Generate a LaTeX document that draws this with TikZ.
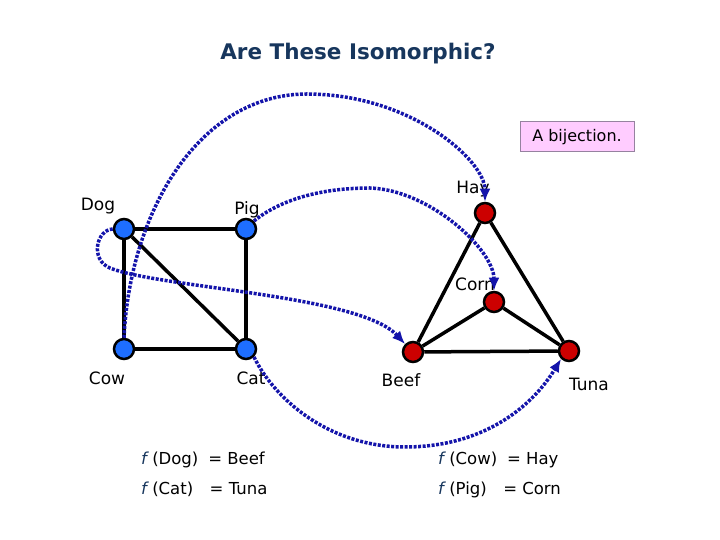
\documentclass[tikz,border=0pt]{standalone}
\usepackage{fontspec}
\setmainfont{DejaVu Sans}
\usetikzlibrary{positioning, arrows.meta}
\definecolor{titleblue}{RGB}{23,54,93}
\definecolor{mapblue}{RGB}{20,20,170}
\definecolor{vertblue}{RGB}{30,110,255}
\definecolor{vertred}{RGB}{204,0,0}
\definecolor{boxpink}{RGB}{255,204,255}
\definecolor{boxedge}{RGB}{150,130,160}
\tikzset{
    bluevert/.style={draw, circle, line width=2.5pt, fill=vertblue, minimum size=20pt, inner sep=0pt},
    redvert/.style={bluevert, fill=vertred},
    graphedge/.style={line width=3.5pt},
    vlabel/.style={font=\fontsize{17}{19}\selectfont, anchor=base, inner sep=0pt},
    maptext/.style={font=\fontsize{16.5}{18}\selectfont, anchor=base west, inner sep=0pt},
    bijarrow/.style={mapblue, line width=3.5pt, dash pattern=on 3pt off 1.5pt,
        -{Latex[length=13pt, width=11pt]}},
    notebox/.style={draw=boxedge, fill=boxpink, line width=1pt, minimum width=114pt, minimum height=30pt,
        font=\fontsize{16}{18}\selectfont}
}
\newcommand{\fof}{{\color{titleblue}\itshape f}}

\begin{document}
\begin{tikzpicture}[x=1pt, y=1pt, >=Latex]
  \useasboundingbox (0,0) rectangle (720,540);
  \node(title)[font=\fontsize{21.5}{24}\selectfont\bfseries, text=titleblue] at (358,486) {Are These Isomorphic?};
  \node(note)[notebox] at (577,403) {A bijection.};
  % left graph
  \node(Dog)[bluevert] at (124,311) {};
  \node(Pig)[bluevert] at (246,311) {};
  \node(Cow)[bluevert] at (124,191) {};
  \node(Cat)[bluevert] at (246,191) {};
  % right graph
  \node(Hay)[redvert] at (485,327) {};
  \node(Corn)[redvert] at (494,238) {};
  \node(Beef)[redvert] at (413,188) {};
  \node(Tuna)[redvert] at (569,189) {};
  \draw[graphedge](Dog)--(Pig);
  \draw[graphedge](Dog)--(Cow);
  \draw[graphedge](Dog)--(Cat);
  \draw[graphedge](Pig)--(Cat);
  \draw[graphedge](Cow)--(Cat);
  \draw[graphedge](Hay)--(Beef);
  \draw[graphedge](Hay)--(Tuna);
  \draw[graphedge](Beef)--(Tuna);
  \draw[graphedge](Corn)--(Beef);
  \draw[graphedge](Corn)--(Tuna);
  % vertex names
  \node(DogL)[vlabel] at (98,329) {Dog};
  \node(PigL)[vlabel] at (247,325) {Pig};
  \node(CowL)[vlabel] at (107,155) {Cow};
  \node(CatL)[vlabel] at (251,155) {Cat};
  \node(HayL)[vlabel] at (473,346) {Hay};
  \node(CornL)[vlabel] at (475,249) {Corn};
  \node(BeefL)[vlabel] at (401,153) {Beef};
  \node(TunaL)[vlabel] at (589,149) {Tuna};
  % the bijection
  \draw[bijarrow](Cow.north) .. controls (130,330) and (200,446) .. (307,446)
      .. controls (410,446) and (485,380) .. (Hay.north);
  \draw[bijarrow](Dog.west) .. controls (96,310) and (90,280) .. (110,272)
      .. controls (160,252) and (360,245) .. (Beef.north west);
  \draw[bijarrow](Pig.north east) .. controls (280,340) and (320,352) .. (370,352)
      .. controls (430,350) and (494,290) .. (Corn.north);
  \draw[bijarrow](Cat.south east) .. controls (275,140) and (330,93) .. (405,93)
      .. controls (480,93) and (530,130) .. (Tuna.south west);
  % the mapping
  \node(fDog)[maptext] at (141,75) {\fof\ (Dog)\hspace{0.6em}= Beef};
  \node(fCat)[maptext] at (141,45) {\fof\ (Cat)\hspace{1em}= Tuna};
  \node(fCow)[maptext] at (438,75) {\fof\ (Cow)\hspace{0.6em}= Hay};
  \node(fPig)[maptext] at (438,45) {\fof\ (Pig)\hspace{1em}= Corn};
\end{tikzpicture}
\end{document}
